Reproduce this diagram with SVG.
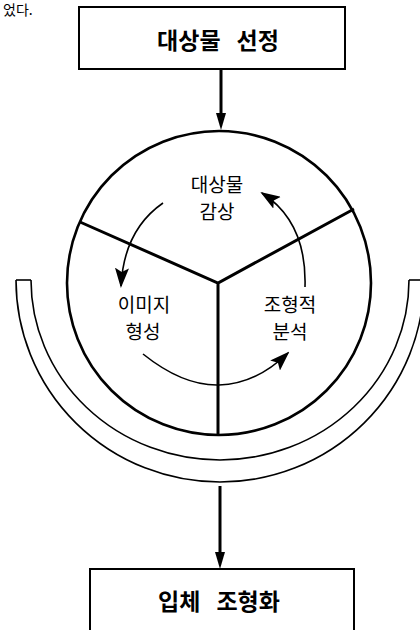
<svg xmlns="http://www.w3.org/2000/svg" width="420" height="630" viewBox="0 0 420 630">
<style>
  text { font-family: "Noto Sans CJK KR", "Noto Sans", sans-serif; fill: #000; text-anchor: middle; }
  .title { font-size: 23px; font-weight: bold; }
  .lbl { font-size: 19px; }
  .box { fill: #fff; stroke: #000; stroke-width: 2; }
  .main { stroke: #000; stroke-width: 3; fill: none; }
  .thin { stroke: #000; stroke-width: 1.6; fill: none; }
  .div { stroke: #000; stroke-width: 3; fill: none; }
</style>
<defs>
  <marker id="head" markerWidth="20" markerHeight="14" refX="18" refY="7" orient="auto" markerUnits="userSpaceOnUse" viewBox="0 0 20 14">
    <path d="M0,0 L20,7 L0,14 L4,7 Z" fill="#000"/>
  </marker>
</defs>
<rect width="420" height="630" fill="#fff"/>
<text x="3" y="15" style="font-size:14px;text-anchor:start">었다.</text>

<g id="cup">
  <path class="thin" d="M16,280 A204,202 0 0 0 424,280"/>
  <path class="thin" d="M31,280 A189,180 0 0 0 409,280"/>
  <path class="thin" d="M16,280 L31,280"/>
  <path class="thin" d="M409,280 L424,280"/>
</g>

<g id="cycle">
  <circle cx="219" cy="283" r="152" fill="#fff" stroke="#000" stroke-width="2.6"/>
  <path class="div" d="M80,222 L218,283 L354,209 M218,283 L218,435"/>
</g>

<g id="node-appreciation">
  <text class="lbl" x="217" y="192">대상물</text>
  <text class="lbl" x="217" y="219">감상</text>
</g>
<g id="node-image">
  <text class="lbl" x="144" y="312">이미지</text>
  <text class="lbl" x="143" y="339">형성</text>
</g>
<g id="node-analysis">
  <text class="lbl" x="290" y="312">조형적</text>
  <text class="lbl" x="290" y="339">분석</text>
</g>

<g id="node-select">
  <rect class="box" x="79" y="7" width="266" height="62"/>
  <text class="title" x="218" y="49">대상물<tspan dx="16">선정</tspan></text>
</g>
<g id="node-shape">
  <rect class="box" x="90" y="569" width="264" height="70"/>
  <text class="title" x="219" y="610">입체<tspan dx="16">조형화</tspan></text>
</g>

<g id="connectors">
  <line class="main" x1="221" y1="69" x2="221" y2="114"/>
  <path d="M216,113 L226,113 L221,130 Z" fill="#000"/>
  <line class="main" x1="220" y1="486" x2="220" y2="553"/>
  <path d="M215,552 L225,552 L220,569 Z" fill="#000"/>
  <path class="thin" d="M163,203 Q124,230 121,286" marker-end="url(#head)"/>
  <path class="thin" d="M305,287 Q307,222 262,193" marker-end="url(#head)"/>
  <path class="thin" d="M143,354 Q183,386 219,385 Q256,384 288,353" marker-end="url(#head)"/>
</g>
</svg>
